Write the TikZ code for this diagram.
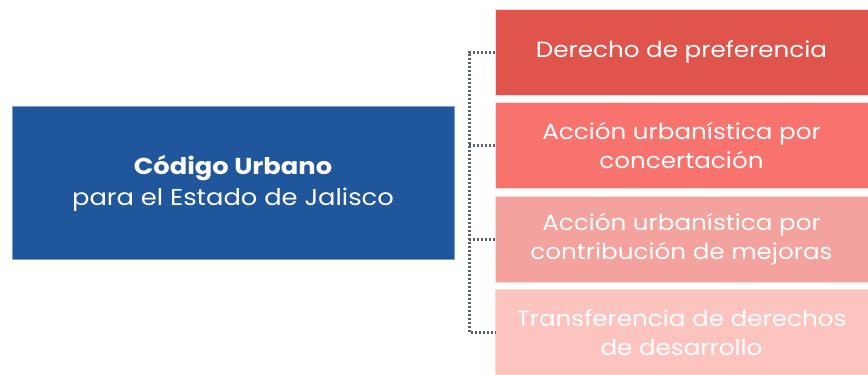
\documentclass[tikz,border=0pt]{standalone}
\usepackage{fontspec}
\setmainfont{Poppins}[FakeStretch=1.12]
\usepackage{xcolor}
\usepackage{tikz}
\usetikzlibrary{positioning}

\definecolor{codeblue}{HTML}{20569B}
\definecolor{codeedge}{HTML}{7F9CC8}
\definecolor{redA}{HTML}{E0554B}
\definecolor{redB}{HTML}{F8736D}
\definecolor{redC}{HTML}{F3A29D}
\definecolor{redD}{HTML}{FDC3BF}
\definecolor{busgray}{HTML}{56626E}

\begin{document}
\begin{tikzpicture}[
  x=1pt, y=-1pt,
  node distance=7.5pt,
  code/.style={draw=codeedge, line width=0.8pt, fill=codeblue, text=white, align=center,
    minimum width=442pt, minimum height=153pt, outer sep=0pt, font=\fontsize{23}{31}\selectfont},
  item/.style={draw=white!85!red, line width=0.6pt, text=white, align=center,
    minimum width=373pt, minimum height=86pt, outer sep=0pt,
    font=\fontsize{22}{29}\selectfont},
  bus/.style={draw=busgray, line width=3pt, dash pattern=on 2.4pt off 1.6pt}
]
\useasboundingbox (0,0) rectangle (868,375);

\node[code] (code) at (233,183) {\textbf{Código Urbano}\\para el Estado de Jalisco};

\node[item, fill=redA, anchor=north west] (pref) at (495,9) {Derecho de preferencia};
\node[item, fill=redB, below=of pref] (conc) {Acción urbanística por\\concertación};
\node[item, fill=redC, below=of conc] (mej) {Acción urbanística por\\contribución de mejoras};
\node[item, fill=redD, below=of mej] (trans) {Transferencia de derechos\\de desarrollo};

\coordinate (rail) at (469,0);
\draw[bus] (pref.west) -- (pref.west -| rail) -- (trans.west -| rail) -- (trans.west);
\draw[bus] (conc.west -| rail) -- (conc.west);
\draw[bus] (mej.west -| rail) -- (mej.west);
\end{tikzpicture}
\end{document}
